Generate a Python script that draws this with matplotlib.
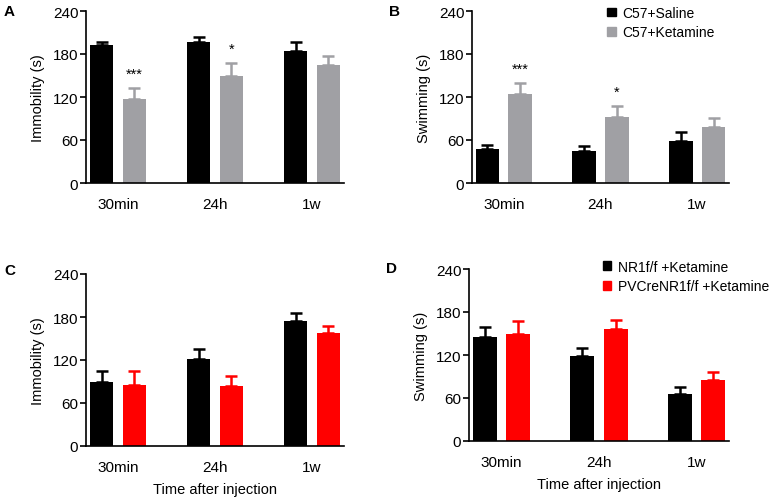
import numpy as np
import matplotlib
matplotlib.use("Agg")
import matplotlib.pyplot as plt
from matplotlib.patches import Patch

plt.rcParams['font.family'] = ['Liberation Sans', 'DejaVu Sans']

times = ['30min', '24h', '1w']

# panel A / B: C57 mice
a_saline = [192, 197, 184]
a_saline_err = [5, 7, 13]
a_ket = [117, 150, 164]
a_ket_err = [15, 17, 13]

b_saline = [48, 45, 58]
b_saline_err = [5, 7, 13]
b_ket = [124, 92, 78]
b_ket_err = [16, 16, 13]

# panel C / D: NR1 mice
c_nr1 = [90, 122, 175]
c_nr1_err = [15, 13, 11]
c_pv = [85, 84, 157]
c_pv_err = [19, 14, 11]

d_nr1 = [145, 118, 66]
d_nr1_err = [14, 12, 10]
d_pv = [150, 156, 85]
d_pv_err = [18, 13, 11]

a_stars = ['***', '*', '']
b_stars = ['***', '*', '']

legend_top = ['C57+Saline', 'C57+Ketamine']
legend_bottom = ['NR1f/f +Ketamine', 'PVCreNR1f/f +Ketamine']

grey = '#a0a0a4'
red = '#ff0000'

W, H = 772, 502
fig = plt.figure(figsize=(W / 100, H / 100), dpi=100)


def make_ax(l, r, t, b):
    return fig.add_axes([l / W, 1 - b / H, (r - l) / W, (b - t) / H])


def panel(ax, v1, e1, v2, e2, c2, ylabel, stars=None, xlabel=None):
    x = np.arange(len(times))
    off, w = 0.17, 0.247
    for vals, errs, col, dx in [(v1, e1, 'black', -off), (v2, e2, c2, off)]:
        ax.bar(x + dx, vals, width=w, color=col, zorder=2)
        ax.errorbar(x + dx, vals, yerr=[np.zeros(3), errs], fmt='none',
                    ecolor=col, elinewidth=1.8, capsize=4.6, capthick=1.8, zorder=1)
    if stars:
        for i, s in enumerate(stars):
            if s:
                top = v2[i] + e2[i]
                ax.text(x[i] + off, top + 10, s, ha='center', va='bottom',
                        fontsize=10.5)
    ax.set_xlim(-0.33, 2.33)
    ax.set_ylim(0, 240)
    ax.set_yticks([0, 60, 120, 180, 240])
    ax.set_xticks(x)
    ax.set_xticklabels(times, fontsize=11)
    ax.tick_params(axis='x', length=0, pad=10)
    ax.tick_params(axis='y', labelsize=11, width=1.2, length=4, pad=1.5)
    for s in ['top', 'right']:
        ax.spines[s].set_visible(False)
    for s in ['left', 'bottom']:
        ax.spines[s].set_linewidth(1.2)
    ax.set_ylabel(ylabel, fontsize=10.5, labelpad=6)
    if xlabel:
        ax.set_xlabel(xlabel, fontsize=10.5, labelpad=6)


def letter(x, y, s):
    fig.text(x / W, 1 - y / H, s, fontsize=11, fontweight='bold',
             ha='left', va='center')


axA = make_ax(86, 344, 12, 184)
panel(axA, a_saline, a_saline_err, a_ket, a_ket_err, grey, 'Immobility (s)', a_stars)
letter(4, 12, 'A')

axB = make_ax(472, 729, 12, 184)
panel(axB, b_saline, b_saline_err, b_ket, b_ket_err, grey, 'Swimming (s)', b_stars)
letter(389, 12, 'B')
axB.legend(handles=[Patch(color='black'), Patch(color=grey)], labels=legend_top,
           loc='upper left', bbox_to_anchor=(0.527, 1.03), frameon=False, fontsize=10,
           borderpad=0, borderaxespad=0,
           handlelength=0.6, handleheight=0.6, handletextpad=0.5, labelspacing=0.4)

axC = make_ax(86, 344, 275, 447)
panel(axC, c_nr1, c_nr1_err, c_pv, c_pv_err, red, 'Immobility (s)',
      xlabel='Time after injection')
letter(4, 271, 'C')

axD = make_ax(469, 729, 270, 442)
panel(axD, d_nr1, d_nr1_err, d_pv, d_pv_err, red, 'Swimming (s)',
      xlabel='Time after injection')
letter(386, 269, 'D')
axD.legend(handles=[Patch(color='black'), Patch(color=red)], labels=legend_bottom,
           loc='upper left', bbox_to_anchor=(0.514, 1.055), frameon=False, fontsize=10,
           borderpad=0, borderaxespad=0,
           handlelength=0.6, handleheight=0.6, handletextpad=0.5, labelspacing=0.4)

fig.savefig('out.png', dpi=100)
